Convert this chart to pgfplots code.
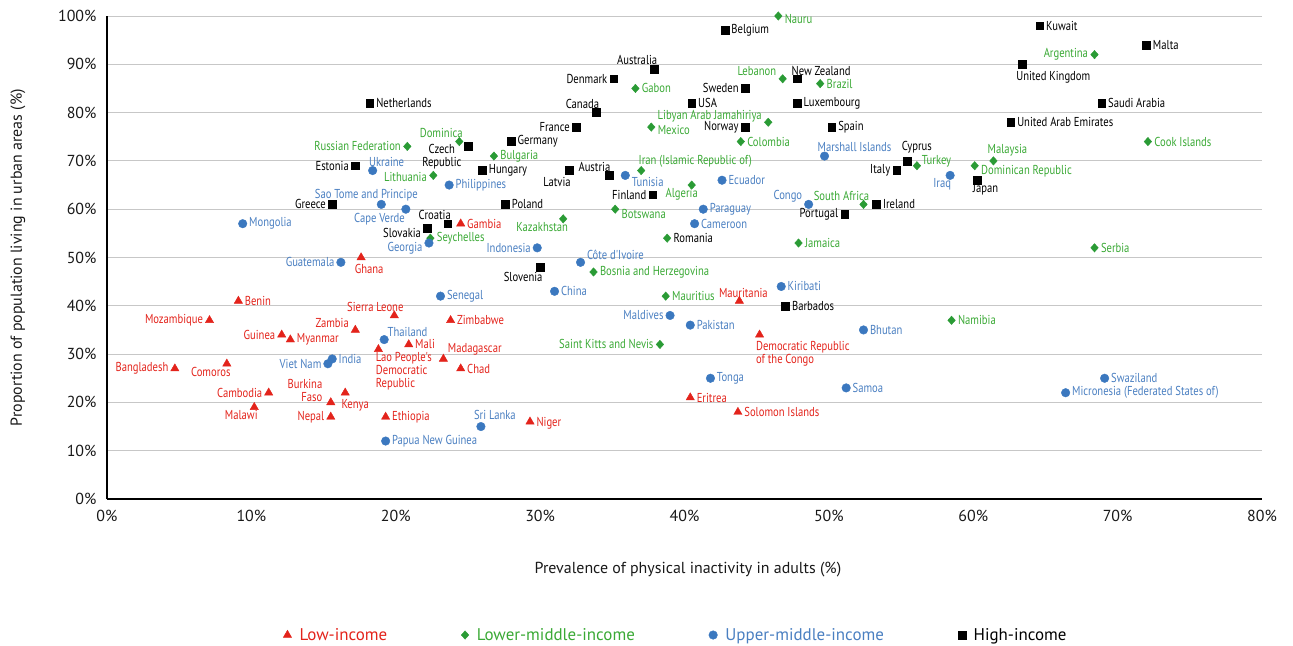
\documentclass[border=0pt]{standalone}
\usepackage{pgfplots}
\pgfplotsset{compat=1.18}
\usepackage{pgfplotstable}
\usepackage{fontspec}
\setmainfont{PT Sans}
\newfontfamily\cnd[FakeStretch=0.82]{PT Sans}

\definecolor{lowred}{HTML}{E3231B}
\definecolor{lmgreen}{HTML}{2A9B35}
\definecolor{lmtext}{HTML}{3AA935}
\definecolor{umblue}{HTML}{3B78BF}
\definecolor{umtext}{HTML}{4A7FC1}

% label placed around its marker: #1,#2 = anchor fraction of the text box,
% #3,#4 = gap to the marker, #5,#6 = extra shift (bp), #7 = text
\newcommand\lab[7]{%
  \sbox0{#7}%
  \makebox[0pt][l]{\hspace*{\dimexpr -#1\wd0 + #3bp + #5bp\relax}%
    \raisebox{\dimexpr #4bp + #6bp - #2\dimexpr\ht0+\dp0\relax + \dp0\relax}[0pt][0pt]{\usebox0}}%
}
\newcommand\Lw[3]{\lab{0}{0.5}{6.5}{0}{#1}{#2}{#3}}
\newcommand\Le[3]{\lab{1}{0.5}{-6.5}{0}{#1}{#2}{#3}}
\newcommand\Ln[3]{\lab{0.5}{1}{0}{-3.5}{#1}{#2}{#3}}
\newcommand\Ls[3]{\lab{0.5}{0}{0}{3.5}{#1}{#2}{#3}}
\newcommand\Lnw[3]{\lab{0}{1}{6.5}{-3.5}{#1}{#2}{#3}}
\newcommand\Lne[3]{\lab{1}{1}{-6.5}{-3.5}{#1}{#2}{#3}}
\newcommand\Lsw[3]{\lab{0}{0}{6.5}{3.5}{#1}{#2}{#3}}

\newcommand{\ltwo}[2]{\begin{tabular}{@{}l@{}}#1\\#2\end{tabular}}
\newcommand{\lthree}[3]{\begin{tabular}{@{}l@{}}#1\\#2\\#3\end{tabular}}
\newcommand{\rtwo}[2]{\begin{tabular}{@{}r@{}}#1\\#2\end{tabular}}
\newcommand{\ctwo}[2]{\begin{tabular}{@{}c@{}}#1\\#2\end{tabular}}
\renewcommand{\arraystretch}{0.92}

% x = physical inactivity (%), y = urban population (%)
\pgfplotstableread[col sep=comma]{
x,y,label
9.1,41,{\Lw{0}{0}{Benin}}
7.1,37,{\Le{0}{0}{Mozambique}}
4.7,27,{\Le{0}{0}{Bangladesh}}
8.3,28,{\Ln{-16}{0}{Comoros}}
12.1,34,{\Le{0}{0}{Guinea}}
12.7,33,{\Lw{0}{0}{Myanmar}}
11.2,22,{\Le{0}{0}{Cambodia}}
10.2,19,{\Ln{-13}{0}{Malawi}}
17.6,50,{\Ln{8}{-3}{Ghana}}
17.2,35,{\Le{0}{7}{Zambia}}
19.9,38,{\Ls{-19}{0}{Sierra Leone}}
15.5,20,{\Le{-2}{10}{\rtwo{Burkina}{Faso}}}
16.5,22,{\Ln{10}{-3}{Kenya}}
15.5,17,{\Le{0}{0}{Nepal}}
18.8,31,{\Lnw{-9}{0}{\lthree{Lao People's}{Democratic}{Republic}}}
20.9,32,{\Lw{0}{0}{Mali}}
19.3,17,{\Lw{0}{0}{Ethiopia}}
24.5,57,{\Lw{0}{0}{Gambia}}
23.8,37,{\Lw{0}{0}{Zimbabwe}}
23.3,29,{\Lw{-2}{10}{Madagascar}}
24.5,27,{\Lw{0}{0}{Chad}}
29.3,16,{\Lw{0}{-2}{Niger}}
40.4,21,{\Lw{0}{0}{Eritrea}}
43.8,41,{\Ls{4}{0}{Mauritania}}
45.2,34,{\Lnw{-10}{-3}{\ltwo{Democratic Republic}{of the Congo}}}
43.7,18,{\Lw{0}{0}{Solomon Islands}}
}\lowincome

\pgfplotstableread[col sep=comma]{
x,y,label
20.8,73,{\Le{0}{0}{Russian Federation}}
24.4,74,{\Ls{-18}{0}{Dominica}}
22.6,67,{\Le{0}{-2}{Lithuania}}
26.8,71,{\Lw{0}{0}{Bulgaria}}
22.4,54,{\Lw{0}{0}{Seychelles}}
31.6,58,{\Ln{-21}{0}{Kazakhstan}}
35.2,60,{\Lw{0}{-5}{Botswana}}
37.7,77,{\Lw{0}{-3}{Mexico}}
36.6,85,{\Lw{0}{0}{Gabon}}
37.0,68,{\Lsw{-9}{0}{Iran (Islamic Republic of)}}
40.5,65,{\Ln{-10}{0}{Algeria}}
38.8,54,{\Lw{0}{0}{\color{black}Romania}}
33.7,47,{\Lw{0}{0}{Bosnia and Herzegovina}}
38.7,42,{\Lw{0}{0}{Mauritius}}
38.3,32,{\Le{0}{0}{Saint Kitts and Nevis}}
45.8,78,{\Le{0}{6}{Libyan Arab Jamahiriya}}
43.9,74,{\Lw{0}{0}{Colombia}}
46.8,87,{\Le{0}{8}{Lebanon}}
46.5,100,{\Lw{0}{-3}{Nauru}}
49.4,86,{\Lw{0}{0}{Brazil}}
47.9,53,{\Lw{0}{0}{Jamaica}}
52.4,61,{\Ls{-22}{0}{South Africa}}
56.1,69,{\Lw{-1.5}{4}{Turkey}}
60.1,69,{\Lw{0}{-5}{Dominican Republic}}
61.4,70,{\Ls{14}{1}{Malaysia}}
68.4,92,{\Le{0}{0}{Argentina}}
72.1,74,{\Lw{0}{0}{Cook Islands}}
68.4,52,{\Lw{0}{0}{Serbia}}
58.5,37,{\Lw{0}{0}{Namibia}}
}\lowermiddle

\pgfplotstableread[col sep=comma]{
x,y,label
9.4,57,{\Lw{0}{0}{Mongolia}}
18.4,68,{\Ls{14}{0}{Ukraine}}
23.7,65,{\Lw{0}{0}{Philippines}}
19.0,61,{\Ls{-15}{0}{Sao Tome and Principe}}
20.7,60,{\Lne{5.5}{-1}{Cape Verde}}
22.3,53,{\Le{0}{-5}{Georgia}}
16.2,49,{\Le{0}{0}{Guatemala}}
23.1,42,{\Lw{0}{0}{Senegal}}
19.2,33,{\Lw{-3}{8}{Thailand}}
15.6,29,{\Lw{0}{0}{India}}
15.3,28,{\Le{0}{0}{Viet Nam}}
19.3,12,{\Lw{0}{0}{Papua New Guinea}}
25.9,15,{\Ls{14}{3}{Sri Lanka}}
29.8,52,{\Le{0}{0}{Indonesia}}
32.8,49,{\Lw{0}{7}{Côte d'Ivoire}}
31.0,43,{\Lw{0}{0}{China}}
35.9,67,{\Lw{0}{-7}{Tunisia}}
42.6,66,{\Lw{0}{0}{Ecuador}}
41.3,60,{\Lw{0}{0}{Paraguay}}
40.7,57,{\Lw{0}{0}{Cameroon}}
39.0,38,{\Le{0}{0}{Maldives}}
40.4,36,{\Lw{0}{0}{Pakistan}}
41.8,25,{\Lw{0}{0}{Tonga}}
46.7,44,{\Lw{0}{0}{Kiribati}}
49.7,71,{\Ls{30}{1}{Marshall Islands}}
48.6,61,{\Le{0}{8}{Congo}}
51.2,23,{\Lw{0}{0}{Samoa}}
52.4,35,{\Lw{0}{0}{Bhutan}}
58.4,67,{\Ln{-8}{0}{Iraq}}
69.1,25,{\Lw{0}{0}{Swaziland}}
66.4,22,{\Lw{0}{0}{Micronesia (Federated States of)}}
}\uppermiddle

\pgfplotstableread[col sep=comma]{
x,y,label
18.2,82,{\Lw{0}{0}{Netherlands}}
25.0,73,{\Le{0}{-11}{\ctwo{Czech}{Republic}}}
17.2,69,{\Le{0}{0}{Estonia}}
26.0,68,{\Lw{0}{0}{Hungary}}
15.6,61,{\Le{0}{0}{Greece}}
22.2,56,{\Le{0}{-4}{Slovakia}}
23.6,57,{\Ls{-13}{1}{Croatia}}
27.6,61,{\Lw{0}{0}{Poland}}
28.0,74,{\Lw{0}{0}{Germany}}
32.5,77,{\Le{0}{0}{France}}
33.9,80,{\Ls{-14}{0}{Canada}}
35.1,87,{\Le{0}{0}{Denmark}}
37.9,89,{\Ls{-17}{1}{Australia}}
42.8,97,{\Lw{0}{0}{Belgium}}
40.5,82,{\Lw{0}{0}{USA}}
44.2,85,{\Le{0}{0}{Sweden}}
44.2,77,{\Le{0}{0}{Norway}}
47.8,87,{\Ls{24}{0}{New Zealand}}
47.8,82,{\Lw{0}{0}{Luxembourg}}
50.2,77,{\Lw{0}{0}{Spain}}
34.8,67,{\Ls{-15}{0}{Austria}}
32.0,68,{\Ln{-12}{-3}{Latvia}}
37.8,63,{\Le{0}{0}{Finland}}
51.1,59,{\Le{0}{0}{Portugal}}
53.3,61,{\Lw{0}{0}{Ireland}}
54.7,68,{\Le{0}{0}{Italy}}
55.4,70,{\Ls{10}{4}{Cyprus}}
60.3,66,{\Ln{8}{0}{Japan}}
62.6,78,{\Lw{0}{0}{United Arab Emirates}}
63.4,90,{\Ln{31}{-4}{United Kingdom}}
64.6,98,{\Lw{0}{0}{Kuwait}}
72.0,94,{\Lw{0}{0}{Malta}}
68.9,82,{\Lw{0}{0}{Saudi Arabia}}
30.0,48,{\Ln{-17}{-2}{Slovenia}}
47.0,40,{\Lw{0}{0}{Barbados}}
}\highincome

\pgfplotsset{
  lbl/.style={
    forget plot,
    nodes near coords,
    point meta=explicit symbolic,
    every node near coord/.style={anchor=center, inner sep=0pt, outer sep=0pt,
      font=\cnd\fontsize{13}{13.5}\selectfont, text=#1},
  },
  mlow/.style={only marks, mark=triangle*, mark size=4.8bp, color=lowred},
  mlm/.style={only marks, mark=diamond*, mark size=4.2bp, mark options={xscale=1.2}, color=lmgreen},
  mum/.style={only marks, mark=*, mark size=4.3bp, color=umblue},
  mhigh/.style={only marks, mark=square*, mark size=3.9bp, color=black},
}

\begin{document}
\begin{tikzpicture}
\useasboundingbox (-107bp,-147bp) rectangle (1186bp,499bp);
\begin{axis}[
  scale only axis,
  width=1155bp, height=483bp,
  xmin=0, xmax=80, ymin=0, ymax=100,
  xtick={0,10,...,80}, ytick={0,10,...,100},
  xticklabel={\pgfmathprintnumber{\tick}\%},
  yticklabel={\pgfmathprintnumber{\tick}\%},
  /pgf/number format/assume math mode=true,
  tick label style={font=\fontsize{16}{18}\selectfont, text=black!90},
  yticklabel style={xshift=-7bp},
  xticklabel style={yshift=-8bp},
  major tick length=0pt,
  axis x line*=bottom, axis y line*=left,
  axis line style={-, line width=2.5bp, black},
  ymajorgrids,
  major grid style={draw=black!22, line width=0.9bp},
  clip=false,
  xlabel={Prevalence of physical inactivity in adults (\%)},
  ylabel={Proportion of population living in urban areas (\%)},
  label style={font=\fontsize{16}{18}\selectfont, text=black!90},
  xlabel style={at={(axis description cs:0.503,-0.147)}, anchor=center},
  ylabel style={at={(axis description cs:-0.077,0.5)}, anchor=center},
  legend columns=4,
  legend style={at={(0.4926,-0.2816)}, anchor=center, draw=none, fill=none,
    font=\fontsize{17}{19}\selectfont,
    /tikz/every odd column/.append style={column sep=6bp},
    /tikz/every even column/.append style={column sep=72bp}},
  legend image code/.code={\draw[#1] plot coordinates {(0bp,0bp)};},
]
\addplot [mlow, lbl=lowred] table [x=x, y=y, meta=label] {\lowincome};
\addplot [mlm, lbl=lmtext] table [x=x, y=y, meta=label] {\lowermiddle};
\addplot [mum, lbl=umtext] table [x=x, y=y, meta=label] {\uppermiddle};
\addplot [mhigh, lbl=black] table [x=x, y=y, meta=label] {\highincome};
\addlegendimage{mlow}
\addlegendentry{\textcolor{lowred}{Low-income}}
\addlegendimage{mlm}
\addlegendentry{\textcolor{lmtext}{Lower-middle-income}}
\addlegendimage{mum}
\addlegendentry{\textcolor{umtext}{Upper-middle-income}}
\addlegendimage{mhigh}
\addlegendentry{High-income}
\end{axis}
\end{tikzpicture}
\end{document}
